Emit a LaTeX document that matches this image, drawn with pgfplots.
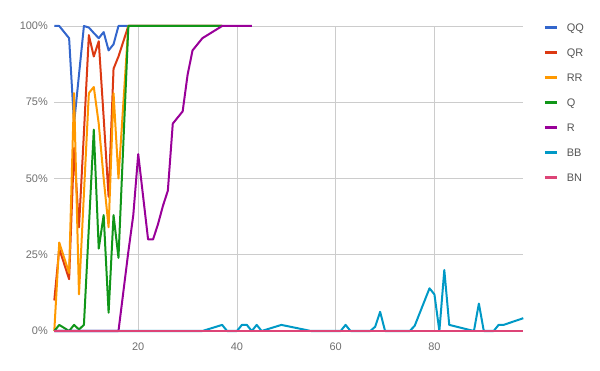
\documentclass[border=0pt]{standalone}
\usepackage{pgfplots}
\pgfplotsset{compat=1.18}
\usepackage{fontspec}
\setmainfont{Liberation Sans}
\definecolor{cQQ}{HTML}{3366CC}
\definecolor{cQR}{HTML}{DC3912}
\definecolor{cRR}{HTML}{FF9900}
\definecolor{cQ}{HTML}{109618}
\definecolor{cR}{HTML}{990099}
\definecolor{cBB}{HTML}{0099C6}
\definecolor{cBN}{HTML}{DD4477}
\definecolor{gridc}{HTML}{CCCCCC}
\definecolor{tickc}{HTML}{6F6F6F}
\definecolor{legc}{HTML}{555555}
\begin{document}
\begin{tikzpicture}
\useasboundingbox (0,0) rectangle (600bp,371bp);
\begin{axis}[
  at={(54.3bp,40bp)}, anchor=south west,
  scale only axis, width=469bp, height=305bp,
  xmin=3, xmax=98, ymin=0, ymax=100,
  clip=false,
  xtick={20,40,60,80},
  ytick={0,25,50,75,100},
  yticklabel={\pgfmathprintnumber{\tick}\%},
  /pgf/number format/assume math mode=true,
  ticklabel style={font=\fontsize{11}{13}\selectfont, text=tickc},
  yticklabel style={xshift=-3bp},
  xticklabel style={yshift=-8bp},
  major tick length=0pt,
  axis line style={draw=none},
  grid=major,
  grid style={draw=gridc, line width=0.8bp},
  every axis plot/.append style={line width=2bp, line join=round},
  legend cell align=left,
  legend image code/.code={\draw[line width=3.5bp,#1] (0bp,0.7bp) -- (12.3bp,0.7bp);},
  legend style={at={(1,1)}, anchor=north west, xshift=19.7bp, yshift=2bp,
    draw=none, fill=none, inner sep=0pt, outer sep=0pt,
    row sep=17bp, column sep=8bp,
    nodes={inner sep=0pt, text height=8bp, text depth=0pt},
    font=\fontsize{11}{13}\selectfont, text=legc},
]
\addplot[cQQ] coordinates {(3,100)(4,100)(5,98)(6,96)(7,68)(8,84)(9,100)(10,99.5)(11,97.7)(12,96)(13,98)(14,92)(15,94)(16,100)(17,100)(18,100)(37,100)};
\addlegendentry{QQ}
\addplot[cQR] coordinates {(3,10)(4,27)(5,22)(6,17)(7,60)(8,34)(9,65)(10,97)(11,90)(12,95)(13,70)(14,44)(15,86)(16,90)(17,95)(18,100)(37,100)};
\addlegendentry{QR}
\addplot[cRR] coordinates {(3,0)(4,29)(5,24)(6,19)(7,78)(8,12)(9,45)(10,78)(11,80)(12,68)(13,50)(14,34)(15,78)(16,50)(17,75)(18,100)(37,100)};
\addlegendentry{RR}
\addplot[cQ] coordinates {(3,0)(4,2)(5,1)(6,0)(7,2)(8,0.5)(9,2)(10,34)(11,66)(12,27)(13,38)(14,6)(15,38)(16,24)(17,62)(18,100)(37,100)};
\addlegendentry{Q}
\addplot[cR] coordinates {(3,0)(16,0)(17,13)(18,26)(19,38)(20,58)(21,44)(22,30)(23,30)(24,35)(25,41)(26,46)(27,68)(28,70)(29,72)(30,84)(31,92)(32,94)(33,96)(34,97)(35,98)(36,99)(37,100)(43,100)};
\addlegendentry{R}
\addplot[cBB] coordinates {(3,0)(33,0)(37,2)(38,0)(40,0)(41,2)(42,2)(43,0)(44,2)(45,0)(49,2)(55,0)(61,0)(62,2)(63,0)(67,0)(68,1.4)(69,6.3)(70,0)(75,0)(76,1.7)(79,14)(80,12)(81,0)(82,20)(83,2)(88,0)(89,9)(90,0)(92,0)(93,2)(94,2)(98,4.2)};
\addlegendentry{BB}
\addplot[cBN] coordinates {(3,0)(98,0)};
\addlegendentry{BN}
\end{axis}
\end{tikzpicture}
\end{document}
